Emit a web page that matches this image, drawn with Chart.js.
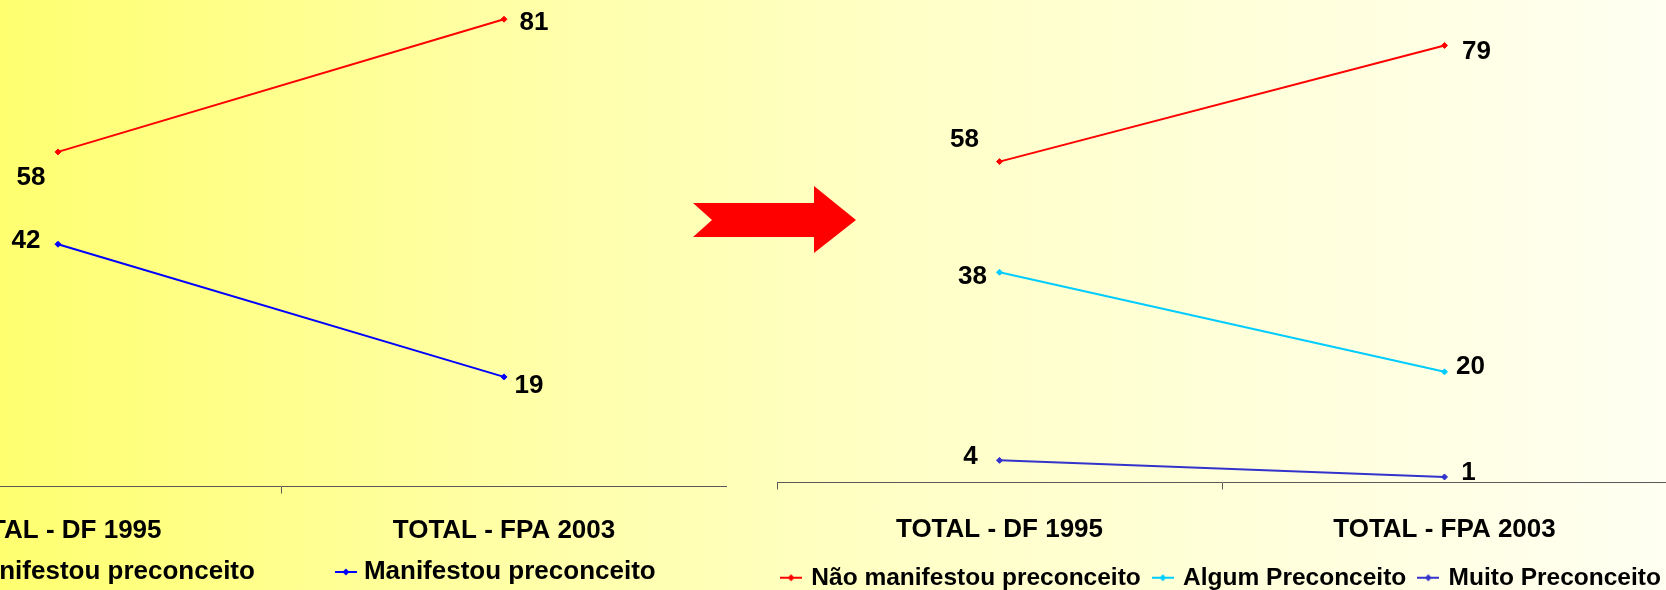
<!DOCTYPE html>
<html>
<head>
<meta charset="utf-8">
<title>Preconceito 1995 x 2003</title>
<script src="https://cdn.jsdelivr.net/npm/chart.js@4.4.1/dist/chart.umd.min.js"></script>
<style>
  html, body {
    margin: 0;
    padding: 0;
    width: 1666px;
    height: 590px;
    overflow: hidden;
  }
  body {
    position: relative;
    background: linear-gradient(to right, #ffff70 0%, #ffffa6 30%, #ffffc8 55%, #ffffe3 85%, #fffff2 100%);
  }
  canvas { position: absolute; top: 0; }
  #arrow { position: absolute; left: 0; top: 0; }
</style>
</head>
<body>
<canvas id="chart-1995" width="992" height="595" style="left:-265px"></canvas>
<canvas id="chart-2003" width="936" height="600" style="left:754px"></canvas>
<svg id="arrow" width="1666" height="590">
  <polygon points="693,203 814,203 814,186 856,220 814,253 814,237 693,237 712,220" fill="#ff0000"/>
</svg>

<script>
// Data
const categories = ['TOTAL - DF 1995', 'TOTAL - FPA 2003'];

// left chart: two answers
const naoManifestou95 = [58, 81];
const manifestou95 = [42, 19];

// right chart: three answers
const naoManifestou03 = [58, 79];
const algumPreconceito = [38, 20];
const muitoPreconceito = [4, 1];

const FONT = '"Liberation Sans", Arial, sans-serif';

Chart.defaults.font.family = FONT;
Chart.defaults.font.weight = 'bold';
Chart.defaults.color = '#000';
Chart.defaults.animation = false;
Chart.defaults.plugins.tooltip.enabled = false;

// line + small diamond, sitting at the right end of the image
function legendMarker(color, imgWidth, markWidth) {
    const c = document.createElement('canvas');
    c.width = imgWidth;
    c.height = 10;
    const g = c.getContext('2d');
    const x0 = imgWidth - markWidth;
    g.strokeStyle = color;
    g.lineWidth = 2;
    g.beginPath();
    g.moveTo(x0, 5);
    g.lineTo(imgWidth, 5);
    g.stroke();
    const cx = x0 + markWidth / 2;
    g.fillStyle = color;
    g.beginPath();
    g.moveTo(cx, 1.5);
    g.lineTo(cx + 3.5, 5);
    g.lineTo(cx, 8.5);
    g.lineTo(cx - 3.5, 5);
    g.closePath();
    g.fill();
    return c;
}

// value labels next to each point
const valueLabels = {
    id: 'valueLabels',
    afterDatasetsDraw(chart) {
        const ctx = chart.ctx;
        ctx.save();
        ctx.font = 'bold 26px ' + FONT;
        ctx.fillStyle = '#000';
        ctx.textAlign = 'center';
        ctx.textBaseline = 'middle';
        chart.data.datasets.forEach(function(ds, i) {
            const meta = chart.getDatasetMeta(i);
            meta.data.forEach(function(pt, j) {
                const off = ds.labelOffsets[j];
                ctx.fillText(String(ds.data[j]), pt.x + off[0], pt.y + off[1]);
            });
        });
        ctx.restore();
    }
};

function lineSet(label, data, color, offsets) {
    return {
        label: label,
        data: data,
        borderColor: color,
        backgroundColor: color,
        borderWidth: 2,
        pointStyle: 'rectRot',
        pointRadius: 3,
        pointBorderWidth: 1,
        pointBackgroundColor: color,
        tension: 0,
        clip: false,
        labelOffsets: offsets
    };
}

function xAxis(height, padding) {
    return {
        offset: true,
        grid: {
            offset: true,
            drawOnChartArea: false,
            drawTicks: true,
            tickLength: 7,
            color: '#5a5a5a',
            lineWidth: 1
        },
        border: { display: true, color: '#5a5a5a', width: 1 },
        ticks: {
            padding: padding,
            maxRotation: 0,
            autoSkip: false,
            color: '#000',
            font: { size: 26, weight: 'bold' }
        },
        afterFit: function(scale) { scale.height = height; }
    };
}

function hiddenAxis(position, width, max) {
    return {
        position: position,
        min: 0,
        max: max,
        ticks: { display: false },
        grid: { display: false },
        border: { display: false },
        afterFit: function(scale) { scale.width = width; }
    };
}

function legendOptions(fontSize, boxWidth, padding, markers) {
    return {
        display: true,
        position: 'bottom',
        labels: {
            usePointStyle: true,
            pointStyleWidth: boxWidth,
            padding: padding,
            color: '#000',
            font: { size: fontSize, weight: 'bold' },
            generateLabels: function(chart) {
                const items = Chart.defaults.plugins.legend.labels.generateLabels(chart);
                items.forEach(function(item, i) { item.pointStyle = markers[i]; });
                return items;
            }
        }
    };
}

// Left chart (DF 1995 vs FPA 2003, two answers)
function initChart1995() {
    const ctx = document.getElementById('chart-1995');
    if (!ctx) return;

    new Chart(ctx, {
        type: 'line',
        data: {
            labels: categories,
            datasets: [
                lineSet('Não manifestou preconceito', naoManifestou95, '#ff0000', [[-27, 26], [30, 4]]),
                lineSet('Manifestou preconceito', manifestou95, '#0000ff', [[-32, -3], [25, 9]])
            ]
        },
        options: {
            responsive: false,
            layout: { autoPadding: false, padding: { top: 10, bottom: 0, left: 0, right: 0 } },
            scales: {
                x: xAxis(62.5, 22),
                y: hiddenAxis('left', 100, 82.6)
            },
            plugins: {
                legend: legendOptions(26, 86, 10, [
                    legendMarker('#ff0000', 98, 22),
                    legendMarker('#0000ff', 98, 22)
                ])
            }
        },
        plugins: [valueLabels]
    });
}

// Right chart (three answers)
function initChart2003() {
    const ctx = document.getElementById('chart-2003');
    if (!ctx) return;

    new Chart(ctx, {
        type: 'line',
        data: {
            labels: categories,
            datasets: [
                lineSet('Não manifestou preconceito', naoManifestou03, '#ff0000', [[-35, -22], [32, 6]]),
                lineSet('Algum Preconceito', algumPreconceito, '#00ccff', [[-27, 5], [26, -5]]),
                lineSet('Muito Preconceito', muitoPreconceito, '#3333cc', [[-29, -4], [24, -4]])
            ]
        },
        options: {
            responsive: false,
            layout: { autoPadding: false, padding: { top: 10, bottom: 0, left: 0, right: 0 } },
            scales: {
                x: xAxis(69, 25),
                y: hiddenAxis('left', 23, 85.4),
                y2: hiddenAxis('right', 23, 1)
            },
            plugins: {
                legend: legendOptions(24.5, 16, 14, [
                    legendMarker('#ff0000', 22, 22),
                    legendMarker('#00ccff', 22, 22),
                    legendMarker('#3333cc', 22, 22)
                ])
            }
        },
        plugins: [valueLabels]
    });
}

document.addEventListener('DOMContentLoaded', function() {
    initChart1995();
    initChart2003();
});
</script>
</body>
</html>
